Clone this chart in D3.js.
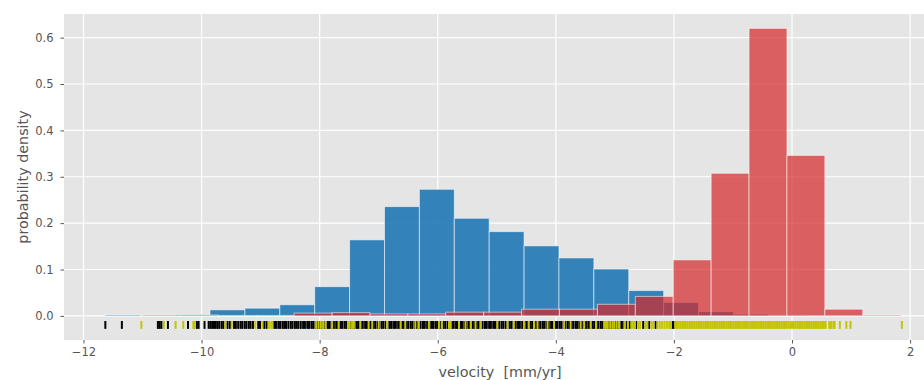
<!DOCTYPE html>
<html>
<head>
<meta charset="utf-8">
<script src="https://cdn.jsdelivr.net/npm/d3@7"></script>
<style>
  html, body { margin: 0; padding: 0; background: #ffffff; }
  svg { display: block; }
  text { font-family: "DejaVu Sans", sans-serif; }
</style>
</head>
<body>
<svg id="chart" width="924" height="380"></svg>
<script>
// ---------------- data ----------------
const xTicks = [-12, -10, -8, -6, -4, -2, 0, 2];
const yTicks = [0.0, 0.1, 0.2, 0.3, 0.4, 0.5, 0.6];
const xLabel = "velocity  [mm/yr]";
const yLabel = "probability density";

// blue histogram (black rug data): bin start, bin width, densities
const blueStart = -11.63;
const blueWidth = 0.591;
const blueDensity = [0.002, 0.0005, 0.003, 0.013, 0.0166, 0.024, 0.063, 0.164, 0.2356, 0.273,
                     0.2105, 0.1817, 0.151, 0.125, 0.101, 0.0546, 0.029, 0.009, 0.0036, 0.001];

// red histogram (yellow rug data)
const redStart = -11.00;
const redWidth = 0.642;
const redDensity = [0.002, 0.002, 0.001, 0.001, 0.006, 0.007, 0.0043, 0.0043, 0.008, 0.008,
                    0.0144, 0.0144, 0.025, 0.042, 0.1207, 0.3075, 0.620, 0.346, 0.0144, 0.002];

// rug values (black)
const blackRug = [-11.63, -11.35, -10.74, -10.71, -10.68, -10.57, -10.23, -10.08, -10.05, -9.95,
  -9.88, -9.85, -9.82, -9.79, -9.76, -9.73, -9.70, -9.66, -9.63, -9.56, -9.52, -9.45, -9.42, -9.38,
  -9.34, -9.31, -9.27, -9.24, -9.20, -9.17, -9.13, -9.04, -9.01, -8.94, -8.90, -8.77, -8.74, -8.70,
  -8.67, -8.63, -8.60, -8.57, -8.53, -8.49, -8.46, -8.42, -8.39, -8.36, -8.32, -8.28, -8.25, -8.21,
  -8.18, -8.14, -8.11, -8.07, -8.04, -8.00, -7.97, -7.93, -7.90, -7.86, -7.83, -7.79, -7.76, -7.72,
  -7.69, -7.65, -7.62, -7.58, -7.55, -7.51, -7.48, -7.44, -7.41, -7.37, -7.34, -7.30, -7.27, -7.23,
  -7.20, -7.16, -7.13, -7.09, -7.06, -7.02, -6.99, -6.95, -6.92, -6.88, -6.85, -6.81, -6.78, -6.74,
  -6.71, -6.67, -6.64, -6.60, -6.57, -6.53, -6.50, -6.46, -6.43, -6.39, -6.36, -6.32, -6.29, -6.25,
  -6.22, -6.18, -6.15, -6.11, -6.08, -6.04, -6.01, -5.97, -5.94, -5.90, -5.87, -5.83, -5.80, -5.76,
  -5.73, -5.69, -5.66, -5.62, -5.59, -5.55, -5.52, -5.48, -5.45, -5.41, -5.38, -5.34, -5.31, -5.27,
  -5.24, -5.20, -5.17, -5.13, -5.10, -5.06, -5.03, -4.99, -4.96, -4.92, -4.89, -4.85, -4.82, -4.78,
  -4.75, -4.71, -4.68, -4.64, -4.61, -4.57, -4.54, -4.50, -4.47, -4.43, -4.40, -4.36, -4.33, -4.29,
  -4.26, -4.22, -4.19, -4.15, -4.12, -4.08, -4.05, -4.01, -3.98, -3.94, -3.91, -3.87, -3.84, -3.80,
  -3.77, -3.73, -3.70, -3.66, -3.63, -3.59, -3.56, -3.52, -3.49, -3.45, -3.42, -3.38, -3.35, -3.31,
  -3.28, -3.24, -3.21, -3.17, -3.14, -3.10, -3.07, -3.03, -3.00, -2.96, -2.93, -2.89,
  -2.86, -2.80, -2.75, -2.64, -2.52, -2.42, -2.31, -2.03, -2.00];

// rug values (yellow)
const yellowRug = [-11.02, -10.64, -10.44, -10.31, -10.14, -10.12, -9.60, -9.49, -9.09, -8.97,
  -8.86, -8.82, -8.80, -8.06, -8.02, -7.98, -7.94, -7.90, -7.79, -7.68, -7.52, -7.49, -7.45, -7.42,
  -7.31, -7.17, -7.11, -7.00, -6.86, -6.63, -6.55, -6.38, -6.32, -6.15, -5.98, -5.93, -5.81, -5.78,
  -5.64, -5.53, -5.44, -5.36, -5.27, -4.99, -4.82, -4.71, -4.54, -4.46, -4.37, -4.31, -4.14, -4.03,
  -3.86, -3.75, -3.58, -3.52, -3.41, -3.32, -3.18, -3.15, -3.12, -3.08, -3.04, -3.01, -2.97, -2.93,
  -2.84, -2.78, -2.72, -2.69, -2.66, -2.60, -2.57, -2.48, -2.45, -2.38, -2.35, -2.28, -2.24, -2.20,
  -2.16, -2.12, -2.08, -2.05,
  -1.98, -1.95, -1.92, -1.89, -1.86, -1.83, -1.80, -1.77, -1.74, -1.71, -1.68, -1.65, -1.62, -1.59,
  -1.56, -1.53, -1.50, -1.47, -1.44, -1.41, -1.38, -1.35, -1.32, -1.29, -1.26, -1.23, -1.20, -1.17,
  -1.14, -1.11, -1.08, -1.05, -1.02, -0.99, -0.96, -0.93, -0.90, -0.87, -0.84, -0.81, -0.78, -0.75,
  -0.72, -0.69, -0.66, -0.63, -0.60, -0.57, -0.54, -0.51, -0.48, -0.45, -0.42, -0.39, -0.36, -0.33,
  -0.30, -0.27, -0.24, -0.21, -0.18, -0.15, -0.12, -0.09, -0.06, -0.03, 0.00, 0.03, 0.06, 0.09,
  0.12, 0.15, 0.18, 0.21, 0.24, 0.27, 0.30, 0.33, 0.36, 0.39, 0.42, 0.45, 0.48, 0.51, 0.54, 0.57,
  0.63, 0.66, 0.70, 0.72, 0.81, 0.92, 0.99, 1.86];

// ---------------- layout ----------------
const W = 924, H = 380;
const plot = { left: 64, top: 14, right: 942, bottom: 340 };
const xDomain = [-12.33, 2.54];
const yDomain = [-0.052, 0.651];
const rugRange = [-0.011, -0.028];

const svg = d3.select("#chart");
const x = d3.scaleLinear().domain(xDomain).range([plot.left, plot.right]);
const y = d3.scaleLinear().domain(yDomain).range([plot.bottom, plot.top]);

svg.append("defs").append("clipPath").attr("id", "clip")
  .append("rect").attr("x", plot.left).attr("y", plot.top)
  .attr("width", plot.right - plot.left).attr("height", plot.bottom - plot.top);

// background
svg.append("rect").attr("x", plot.left).attr("y", plot.top)
  .attr("width", plot.right - plot.left).attr("height", plot.bottom - plot.top)
  .attr("fill", "#e5e5e5");

// grid
const grid = svg.append("g").attr("clip-path", "url(#clip)");
grid.selectAll("line.gx").data(xTicks).enter().append("line")
  .attr("x1", d => x(d)).attr("x2", d => x(d))
  .attr("y1", plot.top).attr("y2", plot.bottom)
  .attr("stroke", "#ffffff").attr("stroke-width", 1.2);
grid.selectAll("line.gy").data(yTicks).enter().append("line")
  .attr("x1", plot.left).attr("x2", plot.right)
  .attr("y1", d => y(d)).attr("y2", d => y(d))
  .attr("stroke", "#ffffff").attr("stroke-width", 1.2);

const bars = svg.append("g").attr("clip-path", "url(#clip)");

function drawHist(start, width, dens, fill, alpha) {
  const data = dens.map((d, i) => ({ x0: start + i * width, x1: start + (i + 1) * width, d }));
  bars.append("g").selectAll("rect").data(data).enter().append("rect")
    .attr("x", b => x(b.x0))
    .attr("width", b => x(b.x1) - x(b.x0))
    .attr("y", b => y(b.d))
    .attr("height", b => y(0) - y(b.d))
    .attr("fill", fill).attr("fill-opacity", alpha)
    .attr("stroke", "#ffffff").attr("stroke-opacity", 0.55).attr("stroke-width", 1);
}
drawHist(blueStart, blueWidth, blueDensity, "#1f77b4", 0.9);
drawHist(redStart, redWidth, redDensity, "#d62728", 0.7);

// rugs
const rug = svg.append("g").attr("clip-path", "url(#clip)");
rug.selectAll("line.k").data(blackRug).enter().append("line")
  .attr("x1", d => x(d)).attr("x2", d => x(d))
  .attr("y1", y(rugRange[0])).attr("y2", y(rugRange[1]))
  .attr("stroke", "#000000").attr("stroke-width", 2);
rug.selectAll("line.y").data(yellowRug).enter().append("line")
  .attr("x1", d => x(d)).attr("x2", d => x(d))
  .attr("y1", y(rugRange[0])).attr("y2", y(rugRange[1]))
  .attr("stroke", "#c4c400").attr("stroke-width", 2);

// axes
const xAxis = d3.axisBottom(x).tickValues(xTicks).tickSize(3.5).tickPadding(4)
  .tickFormat(d => d3.format("")(d).replace("-", "\u2212"));
const gx = svg.append("g").attr("transform", `translate(0,${plot.bottom})`).call(xAxis);
gx.select(".domain").remove();
gx.selectAll(".tick line").attr("stroke", "#555555");
gx.selectAll(".tick text").attr("fill", "#555555").style("font-size", "11.5px")
  .style("font-family", "'DejaVu Sans', sans-serif");

const yAxis = d3.axisLeft(y).tickValues(yTicks).tickSize(3.5).tickPadding(7)
  .tickFormat(d3.format(".1f"));
const gy = svg.append("g").attr("transform", `translate(${plot.left},0)`).call(yAxis);
gy.select(".domain").remove();
gy.selectAll(".tick line").attr("stroke", "#555555");
gy.selectAll(".tick text").attr("fill", "#555555").style("font-size", "11.5px")
  .style("font-family", "'DejaVu Sans', sans-serif");

// labels
svg.append("text").attr("x", 500).attr("y", 377)
  .attr("text-anchor", "middle").attr("fill", "#555555")
  .style("font-size", "14.3px").style("white-space", "pre").text(xLabel);
svg.append("text")
  .attr("transform", `translate(27.5,${(plot.top + plot.bottom) / 2}) rotate(-90)`)
  .attr("text-anchor", "middle").attr("fill", "#555555")
  .style("font-size", "14.3px").text(yLabel);
</script>
</body>
</html>
